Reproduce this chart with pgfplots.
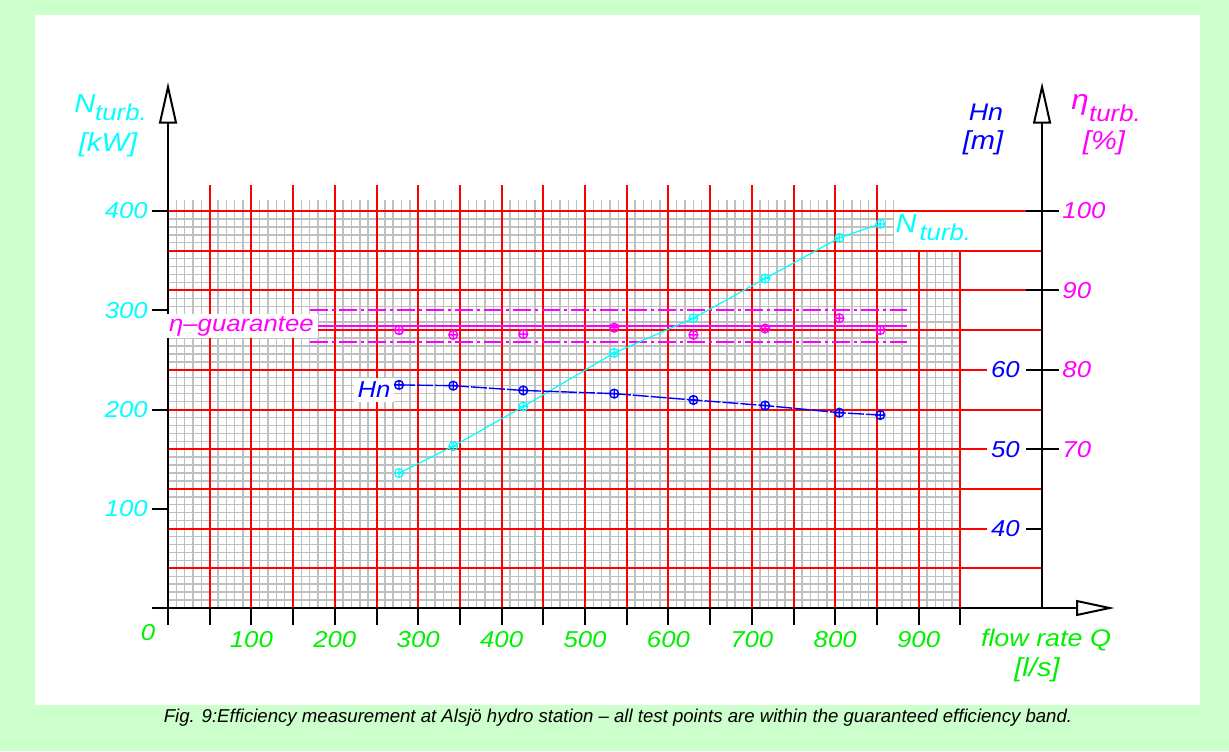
\documentclass[border=0pt]{standalone}
\usepackage{pgfplots}
\pgfplotsset{compat=1.18}
\usepackage{pgfplotstable}
\usepackage{fontspec}
\setmainfont{Liberation Sans}
\newfontfamily\cad{Liberation Sans}[FakeStretch=1.12]
\definecolor{bggreen}{RGB}{204,255,204}
\definecolor{cadcyan}{RGB}{0,255,255}
\definecolor{cadblue}{RGB}{0,0,255}
\definecolor{cadmag}{RGB}{255,0,255}
\definecolor{cadred}{RGB}{255,0,0}
\definecolor{cadgray}{RGB}{192,192,192}
\definecolor{cadgreen}{RGB}{0,240,0}
\pgfplotstableread{
Q    N    Hn    eta
277  136  58.1  85.0
342  163  58.0  84.4
426  203  57.4  84.5
535  257  57.0  85.3
630  292  56.2  84.4
716  332  55.5  85.2
805  373  54.6  86.5
854  387  54.3  85.0
}\data
\newcommand{\cadf}[1]{\cad\itshape\fontsize{#1}{#1}\selectfont}
\begin{document}
\begin{tikzpicture}[x=0.5pt,y=0.5pt]
% background
\fill[bggreen] (0,0) rectangle (1229,751);
\fill[white] (35,46) rectangle (1200,736);
% grid and axes in data units
\begin{scope}[shift={(84pt,71.5pt)},x=0.417pt,y=0.49625pt]
  \draw[cadgray,line width=0.7pt] foreach \q in {10,20,...,870} {(\q,0) -- (\q,411)};
  \draw[cadgray,line width=0.7pt] foreach \q in {880,890,...,950} {(\q,0) -- (\q,360)};
  \draw[cadgray,line width=0.7pt] foreach \n in {8,16,...,360} {(0,\n) -- (950,\n)};
  \draw[cadgray,line width=0.7pt] foreach \n in {368,376,...,400} {(0,\n) -- (870,\n)};
  \draw[cadred,line width=1pt] foreach \q in {50,100,...,850} {(\q,0) -- (\q,426)};
  \draw[cadred,line width=1pt] foreach \q in {900,950} {(\q,0) -- (\q,360)};
  \draw[cadred,line width=1pt] foreach \n in {40,120,200,280,360} {(0,\n) -- (1048,\n)};
  \draw[cadred,line width=1pt] foreach \n in {320,400} {(0,\n) -- (1030,\n)};
  \draw[cadred,line width=1pt] foreach \n in {80,160,240} {(0,\n) -- (982,\n)};
  % axes
  \draw[black,line width=1pt] (-19,0) -- (1090,0);
  \draw[black,line width=1pt] (1090,7) -- (1129,0) -- (1090,-7) -- cycle;
  \draw[black,line width=1pt] (0,-17) -- (0,489);
  \draw[black,line width=1pt] (-9.6,489) -- (0,525) -- (9.6,489) -- cycle;
  \draw[black,line width=1pt] (1048,0) -- (1048,489);
  \draw[black,line width=1pt] (1038.4,489) -- (1048,525) -- (1057.6,489) -- cycle;
  % ticks
  \draw[black,line width=1pt] foreach \q in {0,50,...,950} {(\q,0) -- (\q,-17)};
  \draw[black,line width=1pt] foreach \n in {100,200,300,400} {(-19,\n) -- (0,\n)};
  \draw[black,line width=1pt] foreach \n in {160,240,320,400} {(1029,\n) -- (1068,\n)};
  \draw[black,line width=1pt] (1029,80) -- (1048,80);
  % tick labels
  \foreach \n in {100,200,300,400} {\node[text=cadcyan] at (-50,\n) {\cadf{11.5}\n};}
  \node[text=cadgreen] at (-24,-25) {\cadf{11.5}0};
  \foreach \q in {100,200,...,900} {\node[text=cadgreen] at (\q,-32) {\cadf{11.5}\q};}
  \node[text=cadblue] at (1004,240) {\cadf{11.5}60};
  \node[text=cadblue] at (1004,160) {\cadf{11.5}50};
  \node[text=cadblue] at (1004,80) {\cadf{11.5}40};
  \node[text=cadmag,anchor=west,inner sep=0pt] at (1072,400) {\cadf{11.5}100};
  \node[text=cadmag,anchor=west,inner sep=0pt] at (1072,320) {\cadf{11.5}90};
  \node[text=cadmag,anchor=west,inner sep=0pt] at (1072,240) {\cadf{11.5}80};
  \node[text=cadmag,anchor=west,inner sep=0pt] at (1072,160) {\cadf{11.5}70};
\end{scope}
\begin{axis}[at={(84pt,71.5pt)},anchor=south west,x=0.417pt,y=0.49625pt,
  xmin=0,xmax=1048,ymin=0,ymax=525,hide axis,clip=false]
  % guarantee band (eta 87.5 / 85.5 / 83.5 %)
  \addplot[cadmag,line width=0.8pt,dash pattern=on 9pt off 2pt on 1.5pt off 2pt] coordinates {(170,300) (886,300)};
  \addplot[cadmag,line width=0.8pt] coordinates {(170,284) (886,284)};
  \addplot[cadmag,line width=0.8pt,dash pattern=on 9pt off 2pt on 1.5pt off 2pt] coordinates {(170,268) (886,268)};
  \addplot[cadcyan,line width=0.6pt,mark=oplus,mark size=2.2pt,mark options={solid}] table[x=Q,y=N]{\data};
  \addplot[cadblue,line width=0.7pt,dash pattern=on 8pt off 1pt,mark=oplus,mark size=2.2pt,mark options={solid}] table[x=Q,y expr=8*\thisrow{Hn}-240]{\data};
  \addplot[cadmag,only marks,mark=oplus,mark size=2.2pt,mark options={line width=0.7pt}] table[x=Q,y expr=8*\thisrow{eta}-400]{\data};
  \node[fill=white,text=cadmag,inner xsep=2pt,inner ysep=1pt] at (axis cs:88,284) {\cadf{11.5}η–guarantee};
  \node[fill=white,text=cadblue,inner sep=2pt] at (axis cs:247,220) {\cadf{11.5}Hn};
  \node[text=cadcyan] at (axis cs:885,387) {\cadf{13}N};
  \node[text=cadcyan] at (axis cs:932,379) {\cadf{11.5}turb.};
\end{axis}
% axis titles
\node[text=cadcyan] at (85,647) {\cadf{13}N};
\node[text=cadcyan] at (121,639) {\cadf{11.5}turb.};
\node[text=cadcyan] at (108,606) {\cadf{13}[kW]};
\node[text=cadblue] at (986,639) {\cadf{12}Hn};
\node[text=cadblue] at (983,608) {\cadf{13}[m]};
\node[text=cadmag] at (1080,646) {\cadf{14}η};
\node[text=cadmag] at (1115,638) {\cadf{11.5}turb.};
\node[text=cadmag] at (1104,608) {\cadf{13}[\%]};
\node[text=cadgreen] at (1046,111) {\cadf{12}flow rate Q};
\node[text=cadgreen] at (1037,81) {\cadf{13}[l/s]};
\node at (618,33) {\itshape\fontsize{9.3}{10}\selectfont Fig. 9:Efficiency measurement at Alsjö hydro station – all test points are within the guaranteed efficiency band.};
\end{tikzpicture}
\end{document}
